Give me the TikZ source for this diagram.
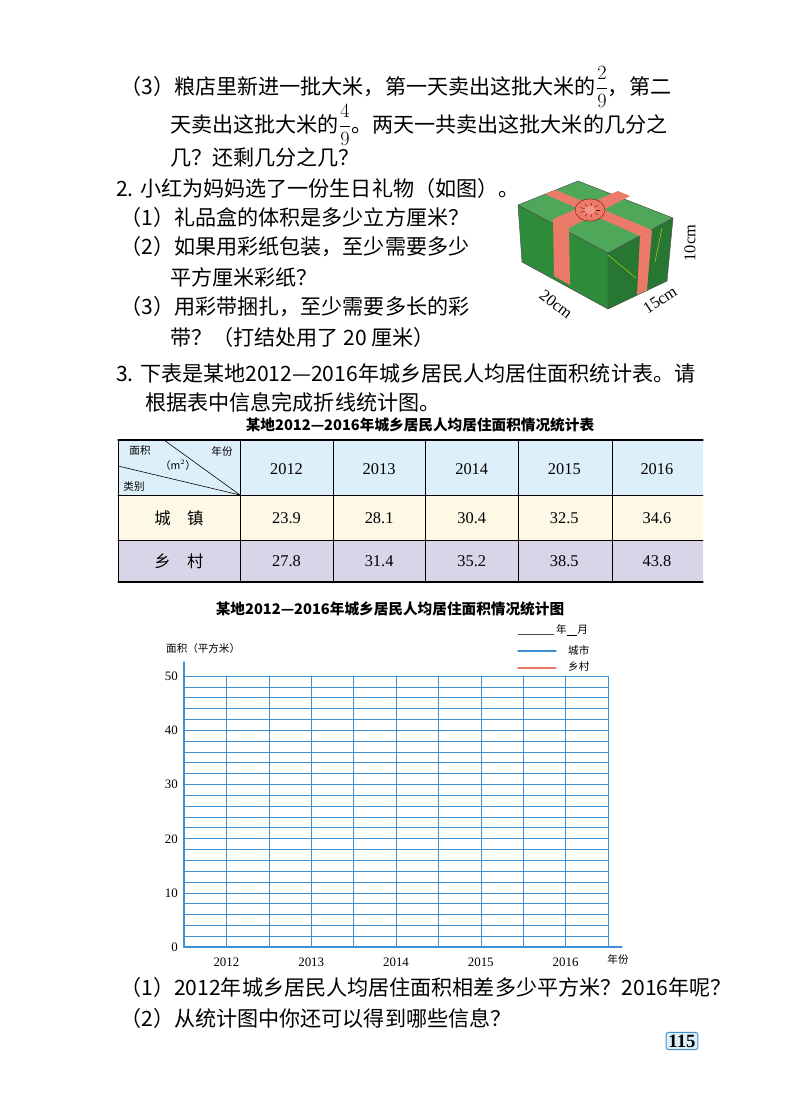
\documentclass[tikz,border=0pt]{standalone}
\usepackage{fontspec}
\setmainfont{Liberation Serif}
\newfontfamily\cjk{Noto Sans CJK SC}
\usetikzlibrary{arrows}
\definecolor{gridblue}{HTML}{3F8FD2}
\definecolor{boxgreen}{HTML}{2E8B3A}
\definecolor{boxlight}{HTML}{4FA75A}
\definecolor{ribbon}{HTML}{EC7A68}
\definecolor{headblue}{HTML}{DDF0FA}
\definecolor{rowcream}{HTML}{FDF9E6}
\definecolor{rowlilac}{HTML}{DAD4E8}
\newcommand{\bigfrac}[2]{\raisebox{0.1ex}{$\displaystyle\frac{#1}{#2}$}}
\tikzset{
  body/.style={anchor=west,inner sep=0pt,font=\fontsize{18}{22}\selectfont\cjk},
  cell/.style={inner sep=0pt,font=\fontsize{14}{16}\selectfont},
  tiny/.style={inner sep=0pt,font=\fontsize{9}{10}\selectfont\cjk},
  ttl/.style={inner sep=0pt,font=\fontsize{12.5}{14}\selectfont\cjk\bfseries}
}
\begin{document}
\begin{tikzpicture}[line cap=round,line join=round,x=0.03cm,y=-0.03cm]
\useasboundingbox (0,0) rectangle (800,1114);
% questions
\node[body] (q3) at (120,87) {（3）粮店里新进一批大米，第一天卖出这批大米的\bigfrac{2}{9}，第二};
\node[body] (q3b) at (170,125) {天卖出这批大米的\bigfrac{4}{9}。两天一共卖出这批大米的几分之};
\node[body] (q3c) at (170,157) {几？还剩几分之几？};
\node[body] (p2) at (116,188) {2. 小红为妈妈选了一份生日礼物（如图）。};
\node[body] (p2a) at (120,217) {（1）礼品盒的体积是多少立方厘米？};
\node[body] (p2b) at (120,247) {（2）如果用彩纸包装，至少需要多少};
\node[body] (p2c) at (170,277) {平方厘米彩纸？};
\node[body] (p2d) at (120,307) {（3）用彩带捆扎，至少需要多长的彩};
\node[body] (p2e) at (170,337) {带？（打结处用了 20 厘米）};
\node[body] (p3) at (116,373) {3. 下表是某地2012—2016年城乡居民人均居住面积统计表。请};
\node[body] (p3b) at (145,402) {根据表中信息完成折线统计图。};
% gift box
\coordinate (A) at (518,205); \coordinate (B) at (578,181);
\coordinate (C) at (673,218); \coordinate (D) at (608,253);
\coordinate (Ab) at (522,262); \coordinate (Db) at (608,309);
\coordinate (Cb) at (667,281);
\fill[boxgreen,draw=black!70,line width=0.4pt] (A) -- (D) -- (Db) -- (Ab) -- cycle;
\fill[boxgreen!85!black,draw=black!70,line width=0.4pt] (D) -- (C) -- (Cb) -- (Db) -- cycle;
\fill[boxlight,draw=black!70,line width=0.4pt] (A) -- (B) -- (C) -- (D) -- cycle;
\fill[ribbon] (553,219) -- (569,228) -- (570,285) -- (554,276) -- cycle;
\fill[ribbon] (640,236) -- (652,230) -- (647,290) -- (637,295) -- cycle;
\fill[ribbon] (545,194) -- (556,190) -- (652,230) -- (640,236) -- cycle;
\fill[ribbon] (553,219) -- (569,228) -- (630,196) -- (618,191) -- cycle;
\draw[yellow!70!green,line width=0.4pt] (608,255) -- (636,278) (662,228) -- (655,262);
\fill[ribbon,draw=red!50!black,line width=0.3pt] (590,210) ellipse (15 and 11);
\foreach \a in {0,40,...,320}
  \draw[red!50!black,line width=0.3pt] (590,210) -- ++(\a:10 and 7);
\fill[ribbon!80!white] (590,210) ellipse (6 and 4);
\node[cell,rotate=-38] (len) at (556,304) {20cm};
\node[cell,rotate=33] (wid) at (660,300) {15cm};
\node[cell,rotate=90] (hgt) at (690,243) {10cm};
% table
\node[ttl] (ttab) at (420,425) {某地2012—2016年城乡居民人均居住面积情况统计表};
\fill[headblue] (118,440) rectangle (703,495);
\fill[rowcream] (118,495) rectangle (703,540);
\fill[rowlilac] (118,540) rectangle (703,582);
\draw[line width=1pt] (118,440) -- (703,440) (118,582) -- (703,582);
\draw[line width=0.6pt] (118,495) -- (703,495) (118,540) -- (703,540);
\foreach \x in {118,240,333,425,518,612}
  \draw[line width=0.6pt] (\x,440) -- (\x,582);
\draw[line width=0.5pt] (164,440) -- (240,495) (118,466) -- (240,495);
\node[tiny] (hmj) at (140,451) {面积};
\node[tiny] (hnf) at (222,451) {年份};
\node[tiny] (hm2) at (178,465) {（m$^2$）};
\node[tiny] (hlb) at (134,487) {类别};
\node[cell,font=\fontsize{14}{16}\selectfont\cjk] (rcz) at (179,518) {城\quad 镇};
\node[cell,font=\fontsize{14}{16}\selectfont\cjk] (rxc) at (179,561) {乡\quad 村};
\foreach \yr/\cz/\xc [count=\i] in {2012/23.9/27.8,2013/28.1/31.4,2014/30.4/35.2,2015/32.5/38.5,2016/34.6/43.8}{
  \pgfmathsetmacro\cx{286.5+92.6*(\i-1)}
  \node[cell] (y\i) at (\cx,469) {\yr};
  \node[cell] (c\i) at (\cx,518) {\cz};
  \node[cell] (x\i) at (\cx,561) {\xc};
}
% chart
\node[ttl] (tchart) at (390,609) {某地2012—2016年城乡居民人均居住面积情况统计图};
\node[tiny,anchor=west] (ylab) at (166,648) {面积（平方米）};
\draw[black!70,line width=0.8pt] (518,634) -- (554,634);
\node[tiny,anchor=west] (lgd) at (556,630) {年\underline{\quad}月};
\draw[gridblue,line width=1.2pt] (518,651) -- (556,651);
\node[tiny,anchor=west] (lcs) at (568,650) {城市};
\draw[ribbon,line width=1.2pt] (518,668) -- (556,668);
\node[tiny,anchor=west] (lxc) at (568,666) {乡村};
\foreach \j in {1,...,25}
  \draw[gridblue,line width=0.5pt] (184,947-10.84*\j) -- (608,947-10.84*\j);
\foreach \i in {1,...,10}
  \draw[gridblue,line width=0.5pt] (184+42.4*\i,947) -- (184+42.4*\i,676);
\draw[gridblue,line width=1.2pt] (184,947) -- (622,947);
\draw[gridblue,line width=1.2pt] (184,947) -- (184,662);
\foreach \v/\yy in {0/947,10/893,20/839,30/784,40/730,50/676}
  \node[cell,font=\fontsize{11}{12}\selectfont,anchor=east] (t\v) at (178,\yy) {\v};
\foreach \yr [count=\i] in {2012,...,2016}
  \node[cell,font=\fontsize{11}{12}\selectfont] (yr\i) at (141.6+84.8*\i,962) {\yr};
\node[tiny] (xlab) at (618,959) {年份};
% bottom questions
\node[body] (q1) at (120,987) {（1）2012年城乡居民人均居住面积相差多少平方米？2016年呢？};
\node[body] (q2) at (120,1018) {（2）从统计图中你还可以得到哪些信息？};
\node[draw=gridblue,fill=headblue,rounded corners=2pt,line width=0.8pt,inner sep=2pt,
  font=\fontsize{16}{18}\selectfont\bfseries] (pg) at (682,1041) {115};
\end{tikzpicture}
\end{document}
